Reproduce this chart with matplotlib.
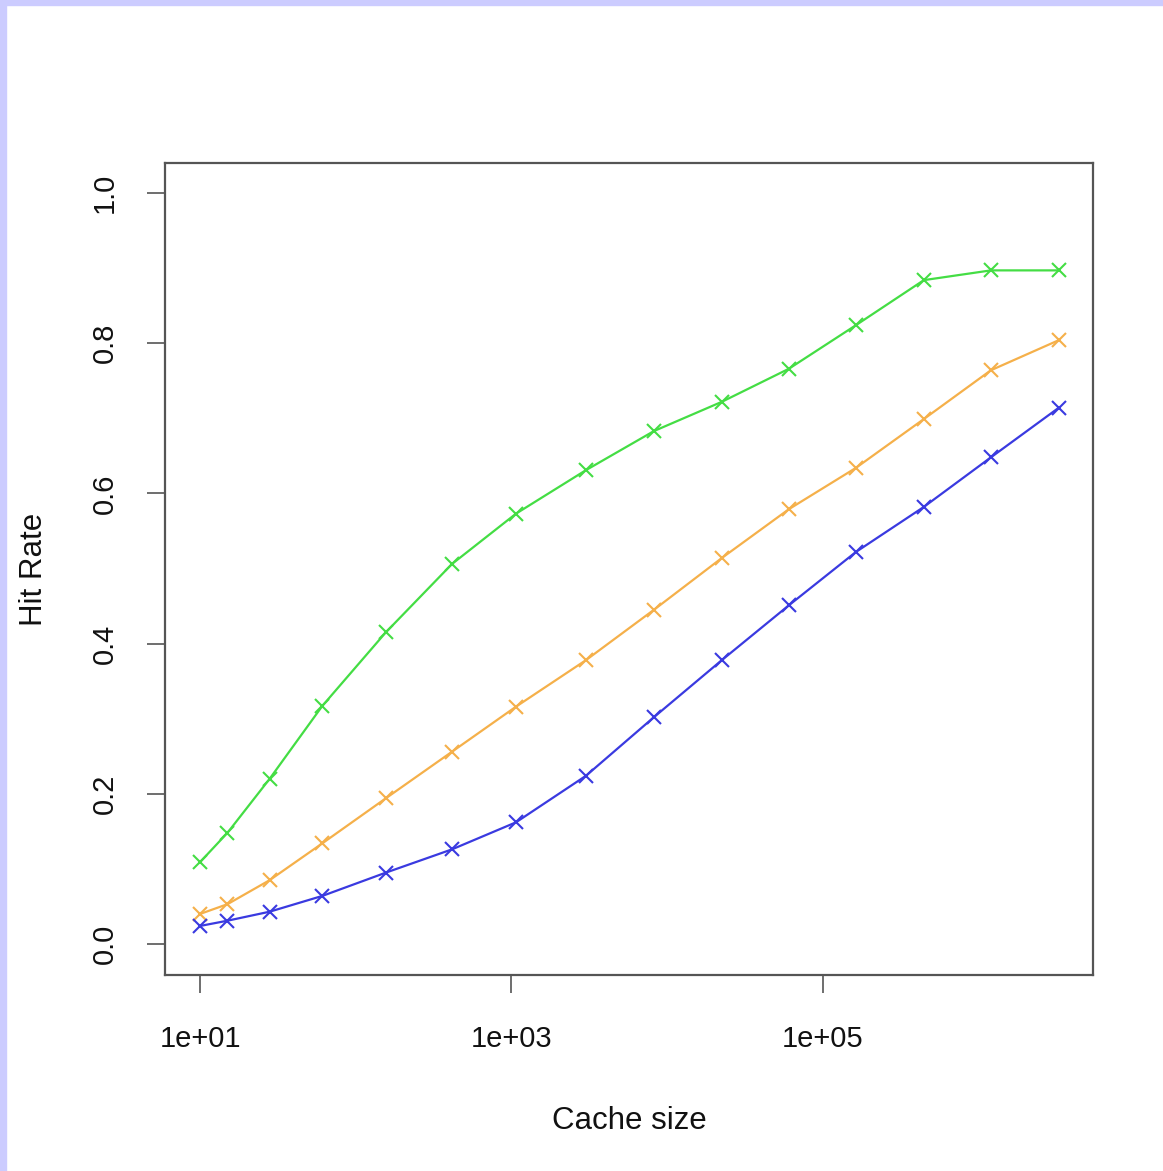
import matplotlib
matplotlib.use('Agg')
import matplotlib.pyplot as plt
from matplotlib.patches import Rectangle

# cache sizes (log x) and hit rates
cache_size = [10, 15, 28, 61, 156, 415, 1069, 3010, 8220, 22450,
              60500, 163000, 445000, 1.2e6, 3.27e6]
hit_green = [0.109, 0.148, 0.220, 0.317, 0.415, 0.506, 0.573, 0.631, 0.683,
             0.722, 0.766, 0.824, 0.884, 0.897, 0.897]
hit_orange = [0.040, 0.053, 0.085, 0.134, 0.194, 0.256, 0.316, 0.378, 0.445,
              0.514, 0.579, 0.634, 0.699, 0.764, 0.804]
hit_blue = [0.024, 0.031, 0.043, 0.064, 0.095, 0.126, 0.162, 0.224, 0.302,
            0.378, 0.451, 0.522, 0.582, 0.648, 0.714]

x_ticks = [10, 1000, 100000]
x_ticklabels = ['1e+01', '1e+03', '1e+05']
y_ticks = [0.0, 0.2, 0.4, 0.6, 0.8, 1.0]
y_ticklabels = ['0.0', '0.2', '0.4', '0.6', '0.8', '1.0']

plt.rcParams['font.family'] = ['Liberation Sans', 'DejaVu Sans']

fig = plt.figure(figsize=(11.63, 11.71), dpi=100)
fig.patch.set_facecolor('white')

# lavender page border (top and left strips)
fig.add_artist(Rectangle((0, 1 - 5 / 1171), 1, 5 / 1171, transform=fig.transFigure,
                         color='#ccccff', zorder=0))
fig.add_artist(Rectangle((0, 0), 6 / 1163, 1, transform=fig.transFigure,
                         color='#ccccff', zorder=0))

ax = fig.add_axes([165 / 1163, 196 / 1171, 928 / 1163, 812 / 1171])

series = [(hit_green, '#44dd44'), (hit_orange, '#f5b04a'), (hit_blue, '#3a3ae0')]
for vals, col in series:
    ax.plot(cache_size, vals, color=col, lw=1.6, marker='x', ms=10.5, mew=1.5)

ax.set_xscale('log')
ax.set_xlim(10 ** 0.775, 10 ** 6.735)
ax.set_ylim(-0.0413, 1.04)
ax.minorticks_off()

ax.set_xticks(x_ticks)
ax.set_xticklabels(x_ticklabels)
ax.set_yticks(y_ticks)
ax.set_yticklabels(y_ticklabels, rotation=90, va='center')

for s in ax.spines.values():
    s.set_color('#555555')
    s.set_linewidth(1.6)

ax.tick_params(axis='both', direction='out', length=13, width=1.2,
               color='#555555', labelsize=21, labelcolor='#111111')
ax.tick_params(axis='x', pad=23)
ax.tick_params(axis='y', pad=20.5)

ax.set_xlabel('Cache size', fontsize=22.5, color='#111111', labelpad=38)
ax.set_ylabel('Hit Rate', fontsize=22.5, color='#111111', labelpad=30)

fig.savefig('out.png', dpi=100)
